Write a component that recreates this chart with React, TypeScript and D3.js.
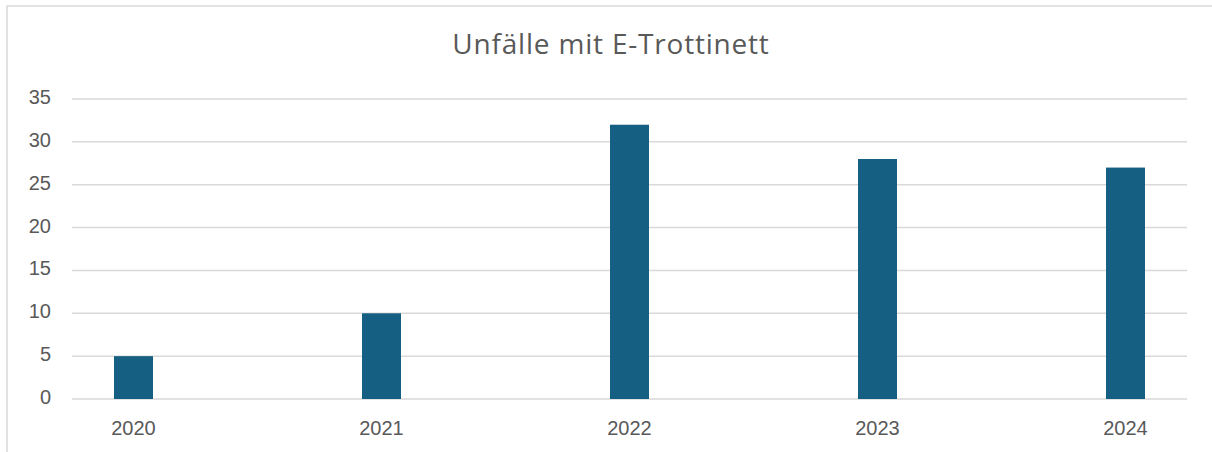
import React, { useEffect, useRef } from "react";
import * as d3 from "d3";

const years = ["2020", "2021", "2022", "2023", "2024"];
const accidents = [5, 10, 32, 28, 27];
const yTicks = [0, 5, 10, 15, 20, 25, 30, 35];
const title = "Unfälle mit E-Trottinett";

const App = () => {
    const ref = useRef<SVGSVGElement>(null);

    useEffect(() => {
        const svg = d3.select(ref.current);
        svg.selectAll("*").remove();

        const width = 1212;
        const plot = { left: 72, right: 1187, top: 99, bottom: 399 };
        const labelFont = "'Liberation Sans', Arial, sans-serif";
        const titleFont = "'Open Sans', sans-serif";

        // chart frame (bottom edge is cut off in the picture)
        svg.append("rect")
            .attr("x", 7)
            .attr("y", 6)
            .attr("width", width)
            .attr("height", 460)
            .attr("fill", "#fff")
            .attr("stroke", "#d9d9d9")
            .attr("stroke-width", 1.5);

        const x = d3.scalePoint().domain(years).range([133.5, 1125.5]);
        const y = d3.scaleLinear().domain([0, 35]).range([plot.bottom, plot.top]);
        const barW = 39;

        // gridlines
        svg.append("g")
            .selectAll("line")
            .data(yTicks)
            .join("line")
            .attr("x1", plot.left)
            .attr("x2", plot.right)
            .attr("y1", (d) => y(d))
            .attr("y2", (d) => y(d))
            .attr("stroke", "#d9d9d9")
            .attr("stroke-width", 1.5);

        // y labels
        svg.append("g")
            .selectAll("text")
            .data(yTicks)
            .join("text")
            .attr("x", 51)
            .attr("y", (d) => y(d) + 5)
            .attr("text-anchor", "end")
            .attr("font-family", labelFont)
            .attr("font-size", 20)
            .attr("fill", "#595959")
            .text((d) => d);

        // bars
        svg.append("g")
            .selectAll("rect")
            .data(accidents)
            .join("rect")
            .attr("x", (d, i) => (x(years[i]) as number) - barW / 2)
            .attr("y", (d) => y(d))
            .attr("width", barW)
            .attr("height", (d) => y(0) - y(d))
            .attr("fill", "#156082");

        // x labels
        svg.append("g")
            .selectAll("text")
            .data(years)
            .join("text")
            .attr("x", (d) => x(d) as number)
            .attr("y", 435)
            .attr("text-anchor", "middle")
            .attr("font-family", labelFont)
            .attr("font-size", 20)
            .attr("fill", "#595959")
            .text((d) => d);

        // title
        svg.append("text")
            .attr("x", 611)
            .attr("y", 54)
            .attr("text-anchor", "middle")
            .attr("font-family", titleFont)
            .attr("font-size", 28)
            .attr("letter-spacing", 0.8)
            .attr("fill", "#595959")
            .text(title);
    }, []);

    return (
        <div style={{ position: "fixed", left: 0, top: 0 }}>
            <svg ref={ref} width={1212} height={452} style={{ display: "block" }}></svg>
        </div>
    );
};

export default App;
